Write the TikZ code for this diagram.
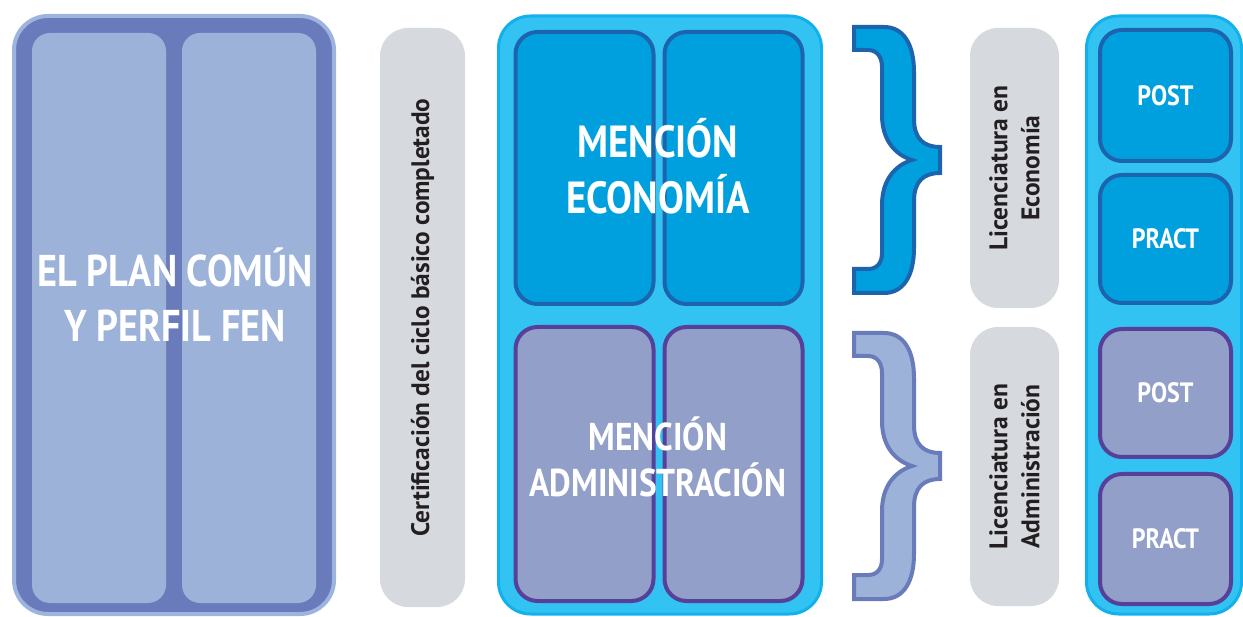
\documentclass[tikz,border=0pt]{standalone}
\usepackage{fontspec}
\setmainfont{PT Sans}
\newfontfamily\headfont{PT Sans}[FakeStretch=0.86]
\usepackage{xcolor}
\usetikzlibrary{positioning}
\definecolor{planRing}{HTML}{9DB4DE}
\definecolor{planDark}{HTML}{6A7BBB}
\definecolor{planLight}{HTML}{9CB2D9}
\definecolor{certGray}{HTML}{D6D9DE}
\definecolor{cyanFill}{HTML}{33C3F2}
\definecolor{cyanLine}{HTML}{12B1EC}
\definecolor{econFill}{HTML}{00A0DF}
\definecolor{econLine}{HTML}{1D64AE}
\definecolor{admFill}{HTML}{919FC9}
\definecolor{admLine}{HTML}{56409A}
\definecolor{textDark}{HTML}{231F20}

\begin{document}
\begin{tikzpicture}[x=1pt, y=-1pt,
	planbox/.style={rectangle, fill=planDark, draw=planRing, line width=4, rounded corners=34, minimum width=320, minimum height=598, inner sep=0},
	plancol/.style={rectangle, fill=planLight, rounded corners=18, minimum width=134, minimum height=570, inner sep=0},
	greybox/.style={rectangle, fill=certGray, rounded corners=28, inner sep=0, rotate=90, align=center, text=textDark, font=\bfseries\fontsize{25.5}{32}\selectfont},
	outerbox/.style={rectangle, fill=cyanFill, draw=cyanLine, line width=3, rounded corners=32, inner sep=0},
	econbox/.style={rectangle, fill=econFill, draw=econLine, line width=4, rounded corners=22, inner sep=0},
	admbox/.style={rectangle, fill=admFill, draw=admLine, line width=4, rounded corners=22, inner sep=0},
	headtext/.style={text=white, align=center, inner sep=0},
	econbrace/.style={fill=econFill, draw=econLine, line width=4},
	admbrace/.style={fill=planLight, draw=planDark, line width=4},
	]
	\useasboundingbox (0,0) rectangle (1243,617);

	%Plan comun
	\node[planbox]  (plan)   at (174,315) {};
	\node[plancol]  (planL)  at (99,318)  {};
	\node[plancol]  (planR)  at (249,318) {};
	\node[headtext, font=\headfont\bfseries\fontsize{44.5}{55}\selectfont] (planTxt) at (175,295) {EL PLAN COMÚN\\Y PERFIL FEN};

	%Certificacion
	\node[greybox, minimum width=579, minimum height=85, font=\bfseries\fontsize{25.3}{32}\selectfont] (cert) at (422.5,317.5) {Certificación del ciclo básico completado};

	%Menciones
	\node[outerbox, minimum width=323, minimum height=598] (mencion) at (660,315) {};
	\node[econbox, minimum width=138, minimum height=272] (econL) at (584.5,168) {};
	\node[econbox, minimum width=138, minimum height=272] (econR) at (733.5,168) {};
	\node[admbox, minimum width=138, minimum height=274] (admL) at (584.5,464) {};
	\node[admbox, minimum width=138, minimum height=274] (admR) at (733.5,464) {};
	\node[headtext, font=\headfont\bfseries\fontsize{45}{56}\selectfont] (econTxt) at (658,166) {MENCIÓN\\ECONOMÍA};
	\node[headtext, font=\headfont\bfseries\fontsize{38.8}{46}\selectfont] (admTxt) at (658,457) {MENCIÓN\\ADMINISTRACIÓN};

	%Llaves
	\foreach \yy/\st in {27/econbrace, 333/admbrace}{
		\draw[\st, shift={(0,\yy)}] (854,0) -- (884,0) .. controls (904,0) and (914,18) .. (914,45) -- (914,92)
			.. controls (914,112) and (924,120) .. (940,120) -- (940,146)
			.. controls (924,146) and (914,154) .. (914,174) -- (914,221)
			.. controls (914,248) and (904,266) .. (884,266) -- (854,266) -- (854,242) -- (868,242)
			.. controls (877,242) and (882,236) .. (882,226) -- (882,178)
			.. controls (882,152) and (896,138) .. (912,133)
			.. controls (896,128) and (882,114) .. (882,88) -- (882,40)
			.. controls (882,30) and (877,23) .. (868,23) -- (854,23) -- cycle;
	}

	%Licenciaturas
	\node[greybox, minimum width=280, minimum height=89] (licEcon) at (1014.5,168)   {Licenciatura en\\Economía};
	\node[greybox, minimum width=279, minimum height=89] (licAdm)  at (1014.5,466.5) {Licenciatura en\\Administración};

	%Post y practica
	\node[outerbox, minimum width=155, minimum height=598] (salida) at (1164,315) {};
	\node[econbox, headtext, minimum width=131, minimum height=131, font=\headfont\bfseries\fontsize{28}{28}\selectfont] (postEcon)  at (1165.5,95.5) {POST};
	\node[econbox, headtext, minimum width=131, minimum height=128, font=\headfont\bfseries\fontsize{28}{28}\selectfont] (practEcon) at (1165.5,239)  {PRACT};
	\node[admbox, headtext, minimum width=131, minimum height=128, font=\headfont\bfseries\fontsize{28}{28}\selectfont]  (postAdm)   at (1165.5,393)  {POST};
	\node[admbox, headtext, minimum width=131, minimum height=130, font=\headfont\bfseries\fontsize{28}{28}\selectfont]  (practAdm)  at (1165.5,539)  {PRACT};
\end{tikzpicture}
\end{document}
